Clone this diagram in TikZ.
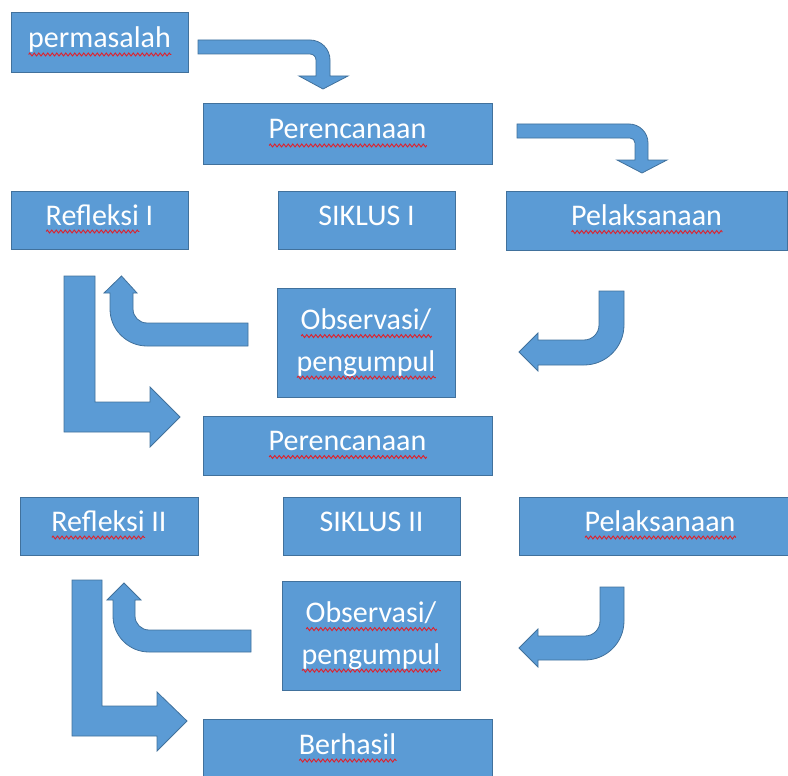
\documentclass[tikz,border=0pt]{standalone}
\usepackage{fontspec}
\setmainfont{Carlito}
\usetikzlibrary{decorations.pathmorphing}
\definecolor{boxfill}{HTML}{5B9BD5}
\definecolor{boxline}{HTML}{41719C}
\definecolor{sqred}{HTML}{E0202A}
\newsavebox\sqbox
\newlength\sqw
\newcommand\sqzig{\tikz[x=1pt,y=1pt,baseline=0pt]\draw[sqred,line width=0.9pt,decorate,decoration={zigzag,segment length=4.5pt,amplitude=1.5pt}] (0pt,0pt) -- (\the\sqw,0pt);}
\newcommand\sq[1]{\sbox\sqbox{#1}\setlength\sqw{\wd\sqbox}\rlap{\smash{\lower6.5pt\hbox{\sqzig}}}\usebox\sqbox}
\tikzset{
  basebox/.style={draw=boxline, line width=1pt, fill=boxfill, text=white, inner sep=0pt,
    font=\fontsize{30}{41.5}\selectfont},
  onebox/.style={basebox, text height=20pt, text depth=10pt},
  twobox/.style={basebox, align=center},
  barrow/.style={draw=boxline, line width=0.8pt, fill=boxfill, line join=miter}
}
\begin{document}
\begin{tikzpicture}[x=1pt,y=-1pt]
\useasboundingbox (0,0) rectangle (788,776);
\clip (0,0) rectangle (788,776);
% boxes
\node[onebox, minimum width=177pt, minimum height=60pt] (perm) at (99.5,43) {\sq{permasalah}};
\node[onebox, minimum width=289pt, minimum height=60pt] (ren1) at (347.5,134) {\sq{Perencanaan}};
\node[onebox, minimum width=177pt, minimum height=58pt] (ref1) at (99.5,220) {\sq{Refleksi} I};
\node[onebox, minimum width=177pt, minimum height=58pt] (sik1) at (366.5,220) {SIKLUS I};
\node[onebox, minimum width=281pt, minimum height=59pt] (pel1) at (646.5,220.5) {\sq{Pelaksanaan}};
\node[twobox, minimum width=178pt, minimum height=109pt] (obs1) at (366,342.5) {\sq{Observasi/}\\\sq{pengumpul}};
\node[onebox, minimum width=289pt, minimum height=59pt] (ren2) at (347.5,445.5) {\sq{Perencanaan}};
\node[onebox, minimum width=178pt, minimum height=58pt] (ref2) at (109,526) {\sq{Refleksi} II};
\node[onebox, minimum width=177pt, minimum height=58pt] (sik2) at (371.5,526) {SIKLUS II};
\node[onebox, minimum width=282pt, minimum height=58pt] (pel2) at (660,526) {\sq{Pelaksanaan}};
\node[twobox, minimum width=178pt, minimum height=109pt] (obs2) at (371,635.5) {\sq{Observasi/}\\\sq{pengumpul}};
\node[onebox, minimum width=289pt, minimum height=60pt] (ber) at (347.5,749) {\sq{Berhasil}};
% bent arrows
\draw[barrow] (198,40) -- (310,40) arc[start angle=-90,end angle=0,radius=20] -- (330,76) -- (348,76)
  -- (323,89) -- (299,76) -- (316,76) -- (316,60) arc[start angle=0,end angle=-90,radius=6] -- (198,54) -- cycle;
\draw[barrow] (517,124) -- (629,124) arc[start angle=-90,end angle=0,radius=19] -- (648,160) -- (667,160)
  -- (642,173) -- (617,160) -- (635,160) -- (635,143) arc[start angle=0,end angle=-90,radius=5] -- (517,138) -- cycle;
\draw[barrow] (599,291) -- (624,291) -- (624,325) arc[start angle=0,end angle=90,radius=40] -- (538,365) -- (538,371)
  -- (519,352) -- (538,333) -- (538,340) -- (584,340) arc[start angle=90,end angle=0,radius=15] -- cycle;
\draw[barrow] (248,323) -- (147,323) arc[start angle=90,end angle=180,radius=14] -- (133,293) -- (137,293)
  -- (121.5,276) -- (104,293) -- (110,293) -- (110,309) arc[start angle=180,end angle=90,radius=37] -- (248,346) -- cycle;
\draw[barrow] (64,276) -- (95,276) -- (95,402) -- (150,402) -- (150,387) -- (180,417) -- (150,447) -- (150,432) -- (64,432) -- cycle;
\draw[barrow] (600,587) -- (624,587) -- (624,621) arc[start angle=0,end angle=90,radius=39] -- (538,660) -- (538,667)
  -- (519,648) -- (538,629) -- (538,636) -- (585,636) arc[start angle=90,end angle=0,radius=15] -- cycle;
\draw[barrow] (251,630) -- (149,630) arc[start angle=90,end angle=180,radius=14] -- (135,600) -- (141,600)
  -- (124,583) -- (107,600) -- (113,600) -- (113,616) arc[start angle=180,end angle=90,radius=36] -- (251,652) -- cycle;
\draw[barrow] (72,580) -- (102,580) -- (102,706) -- (157,706) -- (157,692) -- (187,721) -- (157,751) -- (157,736) -- (72,736) -- cycle;
\end{tikzpicture}
\end{document}
